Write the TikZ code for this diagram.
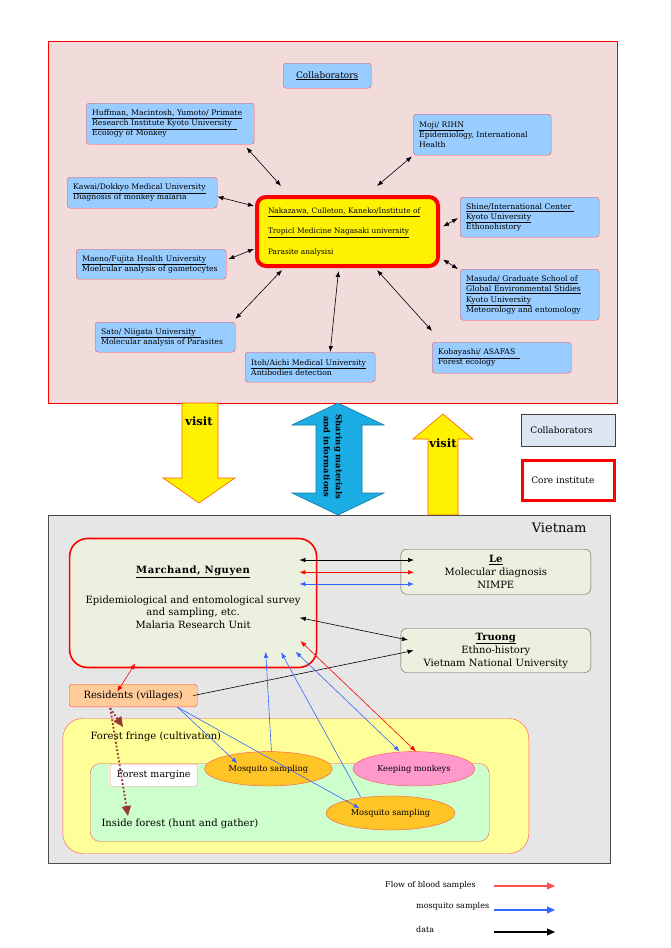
\documentclass[tikz,border=0pt]{standalone}
\usepackage{fontspec}
\setmainfont{DejaVu Serif}
\usetikzlibrary{arrows.meta,shapes.geometric}

\definecolor{panelpink}{RGB}{242,220,219}
\definecolor{skyblue}{RGB}{153,204,255}
\definecolor{legendblue}{RGB}{220,230,242}
\definecolor{panelgray}{RGB}{230,230,230}
\definecolor{palegreen}{RGB}{235,241,222}
\definecolor{peach}{RGB}{255,204,153}
\definecolor{paleyellow}{RGB}{255,255,153}
\definecolor{mintgreen}{RGB}{204,255,204}
\definecolor{mosqorange}{RGB}{255,196,37}
\definecolor{monkeypink}{RGB}{255,153,204}
\definecolor{bloodred}{RGB}{255,0,0}
\definecolor{mosqblue}{RGB}{51,102,255}
\definecolor{brownred}{RGB}{149,55,53}
\definecolor{arrowblue}{RGB}{28,173,228}
\definecolor{edgered}{RGB}{255,80,80}

\tikzset{
  collab/.style={draw=edgered, fill=skyblue, rounded corners=3pt, anchor=north west,
    align=left, inner xsep=6pt, inner ysep=0pt, font=\fontsize{7.7}{10}\selectfont},
  core/.style={draw=red, line width=4pt, fill=yellow, rounded corners=9pt, anchor=north west,
    align=left, inner xsep=11pt, inner ysep=0pt, font=\fontsize{7.4}{20.5}\selectfont},
  vnbox/.style={draw=black!65, fill=palegreen, rounded corners=6pt, anchor=north west,
    align=center, font=\fontsize{10}{13}\selectfont},
  zone/.style={draw=edgered, rounded corners=#1, anchor=north west},
  site/.style={ellipse, draw=edgered, inner sep=0pt, font=\fontsize{8.2}{10}\selectfont},
  zonelabel/.style={anchor=west, font=\fontsize{10}{12}\selectfont},
  legendtext/.style={anchor=west, font=\fontsize{8}{10}\selectfont},
  data/.style={black, line width=0.6pt},
  blood/.style={bloodred, line width=0.6pt},
  mosq/.style={mosqblue, line width=0.6pt},
  brownpath/.style={brownred, line width=1.8pt, dotted, -{Triangle[length=10pt,width=9pt]}},
  bigarrow/.style={fill=yellow, draw=orange!70!red, line width=0.6pt},
  keyarrow/.style={line width=1.1pt, -{Triangle[length=8pt,width=7pt]}},
  visitlabel/.style={font=\bfseries\fontsize{11.5}{13}\selectfont},
  >={Latex[length=6pt,width=4.5pt]}
}

\begin{document}
\begin{tikzpicture}[x=1pt, y=-1pt]
  \useasboundingbox (0,0) rectangle (670,948);

  % collaborators in Japan
  \draw[fill=panelpink, draw=red, line width=0.6pt] (48,41) rectangle (617,403);

  \node[collab, align=center, minimum width=88pt, minimum height=25pt, font=\fontsize{9}{11}\selectfont] (collabtitle) at (283,63) {\underline{Collaborators}};
  \node[collab, minimum width=168pt, minimum height=41pt, text width=156pt] (huffman) at (86,103)
    {\underline{Huffman, Macintosh, Yumoto/ Primate}\\ \underline{Research Institute Kyoto University\ \ }\\ Ecology of Monkey};
  \node[collab, minimum width=138pt, minimum height=41pt, text width=126pt] (moji) at (413,114)
    {\underline{Moji/ RIHN}\\ Epidemiology, International\\ Health};
  \node[collab, minimum width=150pt, minimum height=31pt, text width=138pt] (kawai) at (67,177)
    {\underline{Kawai/Dokkyo Medical University}\\ \mbox{Diagnosis of monkey malaria}};
  \node[core, minimum width=181pt, minimum height=69pt, text width=159pt] (core) at (255,195)
    {\mbox{}\\[-14pt]\underline{Nakazawa, Culleton, Kaneko/Institute of}\\ \underline{Tropicl Medicine Nagasaki university}\\ Parasite analysisi};
  \node[collab, minimum width=139pt, minimum height=40pt, text width=127pt] (shine) at (460,197)
    {\underline{Shine/International Center\ }\\ \underline{Kyoto University}\\ Ethonohistory};
  \node[collab, minimum width=150pt, minimum height=30pt, text width=138pt] (maeno) at (76,249)
    {\underline{Maeno/Fujita Health University}\\ \mbox{Moelcular analysis of gametocytes}};
  \node[collab, minimum width=139pt, minimum height=51pt, text width=127pt, font=\fontsize{7.7}{10.5}\selectfont] (masuda) at (460,269)
    {\underline{Masuda/ Graduate School of}\\ \underline{Global Environmental Stidies}\\ \underline{Kyoto University}\\ \mbox{Meteorology and entomology}};
  \node[collab, minimum width=140pt, minimum height=30pt, text width=128pt] (sato) at (95,322)
    {\underline{Sato/ Niigata University\ \ }\\ \mbox{Molecular analysis of Parasites}};
  \node[collab, minimum width=130pt, minimum height=30pt, text width=118pt] (itoh) at (245,352)
    {\underline{Itoh/Aichi Medical University}\\ Antibodies detection};
  \node[collab, minimum width=139pt, minimum height=31pt, text width=127pt] (kobayashi) at (432,342)
    {\underline{Kobayashi/ ASAFAS\ \ }\\ Forest ecology};

  \draw[data, <->] ([xshift=-8pt,yshift=-3pt]huffman.south east) -- ([xshift=26pt,yshift=9pt]core.north west);
  \draw[data, <->] ([xshift=-1pt,yshift=-1pt]moji.south west) -- ([xshift=-63pt,yshift=9pt]core.north east);
  \draw[data, <->] ([yshift=-4pt]kawai.east) -- ([xshift=-1pt,yshift=-11pt]core.north west);
  \draw[data, <->] ([xshift=-2pt,yshift=-1pt]shine.west) -- ([xshift=3pt,yshift=5pt]core.east);
  \draw[data, <->] ([xshift=3pt,yshift=-28pt]core.east) -- ([xshift=-2pt]masuda.north west);
  \draw[data, <->] ([xshift=2pt,yshift=5pt]maeno.east) -- ([xshift=-1pt,yshift=19pt]core.south west);
  \draw[data, <->] ([yshift=3pt]sato.north east) -- ([xshift=27pt,yshift=-2pt]core.south west);
  \draw[data, <->] ([xshift=20pt]itoh.north) -- ([xshift=-9pt,yshift=-3pt]core.south);
  \draw[data, <->] ([xshift=-63pt,yshift=-2pt]core.south east) -- ([yshift=11pt]kobayashi.north west);

  % visits and sharing
  \draw[bigarrow] (182,403) -- (218,403) -- (218,478) -- (235,478) -- (199,503) -- (163,478) -- (182,478) -- cycle;
  \node[visitlabel] (visitdown) at (199,421) {visit};
  \draw[fill=arrowblue, draw=arrowblue!70!black, line width=0.6pt] (338,403) -- (384,425) -- (362,425) -- (362,493) -- (384,493)
    -- (338,515) -- (292,493) -- (316,493) -- (316,425) -- (292,425) -- cycle;
  \node[rotate=-90, align=center, font=\bfseries\fontsize{8.4}{12}\selectfont] (sharing) at (333,457) {Sharing materials\\ and informations};
  \draw[bigarrow] (443,414) -- (473,439) -- (458,439) -- (458,515) -- (428,515) -- (428,439) -- (413,439) -- cycle;
  \node[visitlabel] (visitup) at (443,443) {visit};

  \node[draw=black!75, line width=0.8pt, fill=legendblue, anchor=north west, minimum width=94pt, minimum height=32pt,
    text width=76pt, inner xsep=9pt, align=left, font=\fontsize{9}{11}\selectfont] (legcollab) at (521,414) {Collaborators};
  \node[draw=red, line width=2.5pt, fill=white, anchor=north west, minimum width=92pt, minimum height=40pt,
    text width=74pt, inner xsep=9pt, align=left, font=\fontsize{9}{11}\selectfont] (legcore) at (521,459) {Core institute};

  % field work in Vietnam
  \draw[fill=panelgray, draw=black!70, line width=1pt] (48,515) rectangle (610,863);
  \node[anchor=east, font=\fontsize{13}{15}\selectfont] (vietnam) at (590,528) {Vietnam};

  \node[vnbox, draw=red, line width=1.6pt, rounded corners=18pt, minimum width=247pt, minimum height=129pt,
    font=\fontsize{10}{12.5}\selectfont] (marchand) at (68.8,537.7)
    {{\bfseries\addfontfeature{LetterSpace=5}\underline{Marchand, Nguyen}}\\[17pt]
     Epidemiological and entomological survey\\ and sampling, etc.\\ Malaria Research Unit\\[-1pt]\mbox{}};
  \node[vnbox, minimum width=190pt, minimum height=45pt] (le) at (400.6,549)
    {{\bfseries\underline{Le}}\\ Molecular diagnosis\\ NIMPE};
  \node[vnbox, minimum width=190pt, minimum height=44pt] (truong) at (400.6,628.3)
    {{\bfseries\underline{Truong}}\\ Ethno-history\\ Vietnam National University};

  \node[draw=edgered, fill=peach, rounded corners=3pt, anchor=north west, minimum width=128pt, minimum height=22.7pt,
    inner sep=0pt, font=\fontsize{10}{12}\selectfont] (residents) at (69,684) {Residents (villages)};

  \node[zone=20pt, fill=paleyellow, minimum width=466pt, minimum height=135pt] (fringe) at (62.6,718.3) {};
  \node[zone=10pt, fill=mintgreen, minimum width=399pt, minimum height=78pt] (inside) at (90,763.3) {};
  \node[draw=edgered!60, fill=white, rounded corners=2pt, anchor=north west, minimum width=87pt, minimum height=22pt,
    inner sep=0pt, font=\fontsize{9.5}{11}\selectfont] (margin) at (110,764) {Forest margine};
  \node[zonelabel] (fringelabel) at (87,737) {Forest fringe (cultivation)};
  \node[zonelabel] (insidelabel) at (98,824) {Inside forest (hunt and gather)};

  \node[site, fill=mosqorange, minimum width=127.6pt, minimum height=34.4pt] (mosqa) at (268.4,768.8) {Mosquito sampling};
  \node[site, fill=monkeypink, minimum width=122pt, minimum height=34.4pt] (monkeys) at (413.9,768.8) {Keeping monkeys};
  \node[site, fill=mosqorange, minimum width=129pt, minimum height=34pt] (mosqb) at (390.5,813) {Mosquito sampling};

  \draw[data, <->] ([xshift=-18pt,yshift=-22.3pt]marchand.north east) -- ([xshift=13.4pt,yshift=-11pt]le.north west);
  \draw[blood, <->] ([xshift=-18pt,yshift=-34.6pt]marchand.north east) -- ([xshift=13.4pt,yshift=-23.3pt]le.north west);
  \draw[mosq, <->] ([xshift=-18pt,yshift=-46.3pt]marchand.north east) -- ([xshift=13.4pt,yshift=-35pt]le.north west);
  \draw[data, <->] ([xshift=-17.6pt,yshift=-14.7pt]marchand.east) -- ([xshift=7.4pt,yshift=10.5pt]truong.west);
  \draw[data, ->] ([xshift=-4pt]residents.east) -- ([xshift=13pt]truong.west);
  \draw[blood, <->] ([xshift=66.6pt,yshift=5pt]marchand.south west) -- ([xshift=-16pt,yshift=-7.7pt]residents.north);

  \draw[mosq, ->] ([xshift=-20pt]residents.south east) -- ([xshift=-31pt,yshift=5.5pt]mosqa.center);
  \draw[mosq, ->] ([xshift=-20pt]residents.south east) -- ([xshift=-31pt,yshift=4.7pt]mosqb.center);
  \draw[mosq, ->] ([xshift=3pt]mosqa.north) -- ([xshift=72.6pt,yshift=16.6pt]marchand.south);
  \draw[mosq, ->] ([xshift=-30pt,yshift=-1pt]mosqb.north) -- ([xshift=88pt,yshift=16pt]marchand.south);
  \draw[mosq, <->] ([xshift=102.5pt,yshift=16.6pt]marchand.south) -- ([xshift=-14.3pt]monkeys.north);
  \draw[blood, <->] ([xshift=107.3pt,yshift=27.3pt]marchand.south) -- ([xshift=2pt]monkeys.north);

  \coordinate (fringeend) at (123,727);
  \coordinate (insideend) at (128,816);
  \draw[brownpath] ([xshift=-23pt,yshift=-1pt]residents.south) -- (fringeend);
  \draw[brownpath] ([xshift=-23pt,yshift=-1pt]residents.south) -- (insideend);

  % key
  \node[legendtext] (legblood) at (381.7,885) {Flow of blood samples};
  \node[legendtext] (legmosq) at (412.7,906.7) {mosquito samples};
  \node[legendtext] (legdata) at (412.7,929.3) {data};
  \coordinate (bloodfrom) at (494,886);
  \coordinate (bloodto) at (555,886);
  \coordinate (mosqfrom) at (494,910);
  \coordinate (mosqto) at (555,910);
  \coordinate (datafrom) at (494,932);
  \coordinate (datato) at (555,932);
  \draw[keyarrow, edgered] (bloodfrom) -- (bloodto);
  \draw[keyarrow, mosqblue] (mosqfrom) -- (mosqto);
  \draw[keyarrow, black] (datafrom) -- (datato);
\end{tikzpicture}
\end{document}
